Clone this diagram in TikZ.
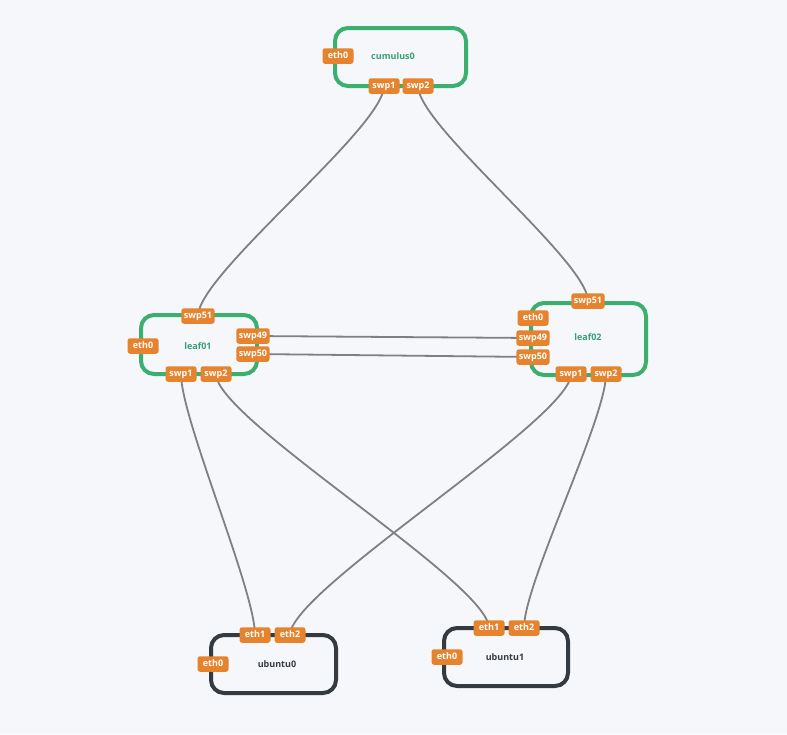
\documentclass[tikz,border=0pt]{standalone}
\usepackage{fontspec}
\setmainfont{Open Sans}
\usetikzlibrary{backgrounds}
\definecolor{bgc}{HTML}{F5F7FA}
\definecolor{swc}{HTML}{3BAF6E}
\definecolor{hostc}{HTML}{343A40}
\definecolor{portc}{HTML}{E5832F}
\definecolor{linkc}{HTML}{808080}
\definecolor{swtext}{HTML}{3A9E78}
\begin{document}
\begin{tikzpicture}[x=1pt,y=-1pt,
  port/.style={fill=portc, rounded corners=2.5pt, text=white,
    font=\bfseries\fontsize{9}{9}\selectfont, minimum height=15.5pt,
    inner xsep=2.5pt, inner ysep=0pt, minimum width=31pt, text height=6.8pt, text depth=1.6pt},
  swbox/.style={draw=swc, line width=4pt, rounded corners=13pt, inner sep=0pt},
  hostbox/.style={draw=hostc, line width=4pt, rounded corners=13pt, inner sep=0pt},
  swlabel/.style={text=swtext, font=\bfseries\fontsize{9}{9}\selectfont},
  hostlabel/.style={text=hostc, font=\bfseries\fontsize{9}{9}\selectfont},
  link/.style={draw=linkc, line width=1.8pt}]
\useasboundingbox (0,0) rectangle (787,734);

% boxes
\node[swbox, minimum width=131pt, minimum height=58pt] (cumulus0) at (400.5,57) {};
\node[swbox, minimum width=116pt, minimum height=59pt] (leaf01) at (199,344.5) {};
\node[swbox, minimum width=115pt, minimum height=72pt] (leaf02) at (588.5,339) {};
\node[hostbox, minimum width=125pt, minimum height=58pt] (ubuntu0) at (273.5,664) {};
\node[hostbox, minimum width=124pt, minimum height=58pt] (ubuntu1) at (506,657) {};

% labels
\node[swlabel] (cumulus0l) at (393,56) {cumulus0};
\node[swlabel] (leaf01l) at (198,346) {leaf01};
\node[swlabel] (leaf02l) at (588,337) {leaf02};
\node[hostlabel] (ubuntu0l) at (277,664) {ubuntu0};
\node[hostlabel] (ubuntu1l) at (505,657) {ubuntu1};

% ports
\node[port] (c0eth0) at (338,56) {eth0};
\node[port] (c0swp1) at (384,86) {swp1};
\node[port] (c0swp2) at (418,86) {swp2};

\node[port] (l1swp51) at (198,316) {swp51};
\node[port] (l1eth0) at (143,346) {eth0};
\node[port] (l1swp49) at (253,336) {swp49};
\node[port] (l1swp50) at (253,354) {swp50};
\node[port] (l1swp1) at (181,374) {swp1};
\node[port] (l1swp2) at (216,374) {swp2};

\node[port] (l2swp51) at (588,301) {swp51};
\node[port] (l2eth0) at (533,318) {eth0};
\node[port] (l2swp49) at (533,338) {swp49};
\node[port] (l2swp50) at (533,357) {swp50};
\node[port] (l2swp1) at (571,374) {swp1};
\node[port] (l2swp2) at (606,374) {swp2};

\node[port] (u0eth1) at (255,635) {eth1};
\node[port] (u0eth2) at (290,635) {eth2};
\node[port] (u0eth0) at (213,664) {eth0};

\node[port] (u1eth1) at (489,628) {eth1};
\node[port] (u1eth2) at (524,628) {eth2};
\node[port] (u1eth0) at (447,657) {eth0};

\begin{pgfonlayer}{background}
\fill[bgc] (0,0) rectangle (787,734);
\draw[link] (c0swp1.center) .. controls +(0,42) and +(0,-42) .. (l1swp51.center);
\draw[link] (c0swp2.center) .. controls +(0,40) and +(0,-40) .. (l2swp51.center);
\draw[link] (l1swp49.center) -- (l2swp49.center);
\draw[link] (l1swp50.center) -- (l2swp50.center);
\draw[link] (l1swp1.center) .. controls +(0,45) and +(0,-45) .. (u0eth1.center);
\draw[link] (l1swp2.center) .. controls +(0,45) and +(0,-45) .. (u1eth1.center);
\draw[link] (l2swp1.center) .. controls +(0,45) and +(0,-45) .. (u0eth2.center);
\draw[link] (l2swp2.center) .. controls +(0,45) and +(0,-45) .. (u1eth2.center);
\end{pgfonlayer}
\end{tikzpicture}
\end{document}
